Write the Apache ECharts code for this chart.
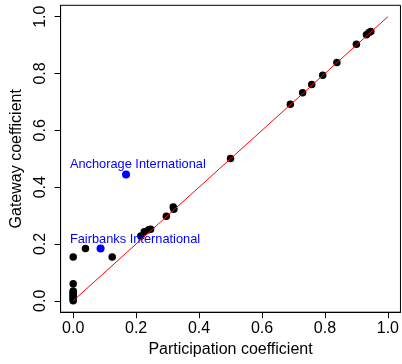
<!DOCTYPE html>
<html>
<head>
<meta charset="utf-8">
<script src="https://cdn.jsdelivr.net/npm/echarts@6/dist/echarts.min.js"></script>
<style>html,body{margin:0;padding:0;background:#fff}#c{width:402px;height:364px}</style>
</head>
<body>
<div id="c"></div>
<script>
// Tick values
var tickValues = [0, 0.2, 0.4, 0.6, 0.8, 1.0];

// Black airports: participation (x) and gateway (y)
var blackX = [0, 0.039, 0.124, 0, 0, 0, 0, 0, 0, 0, 0, 0,
  0.215, 0.226, 0.240, 0.246, 0.296, 0.318, 0.320,
  0.500, 0.690, 0.729, 0.758, 0.793, 0.838, 0.900, 0.932, 0.940, 0.946];
var blackY = [0.154, 0.184, 0.154, 0.060, 0.035, 0.030, 0.025, 0.020, 0.015, 0.010, 0.005, 0.000,
  0.228, 0.243, 0.250, 0.252, 0.298, 0.330, 0.322,
  0.501, 0.692, 0.732, 0.761, 0.794, 0.839, 0.903, 0.936, 0.944, 0.948];

// Highlighted airports
var blueNames = ["Anchorage International", "Fairbanks International"];
var blueX = [0.168, 0.087];
var blueY = [0.445, 0.184];

// Label anchor positions (data coords)
var labelX = [-0.0104, -0.0104];
var labelY = [0.481, 0.2166];

// Reference line y = x
var refX = [0, 1];
var refY = [0, 1];

function zip(a, b) { return a.map(function (v, i) { return [v, b[i]]; }); }

var font = 'Liberation Sans, Arial, sans-serif';
var chart = echarts.init(document.getElementById('c'), null, {renderer: 'canvas'});
var axisCommon = {
  type: 'value', min: -0.04, max: 1.04,
  splitLine: {show: false},
  axisLine: {show: true, onZero: false, lineStyle: {color: '#000', width: 1}},
  axisTick: {show: true, length: 6, customValues: tickValues, lineStyle: {color: '#000'}},
  nameLocation: 'middle',
  nameTextStyle: {fontFamily: font, fontSize: 16, color: '#000'}
};
chart.setOption({
  animation: false,
  grid: {left: 60.6, top: 5.3, width: 342.8, height: 306.9, show: true, borderColor: '#000', borderWidth: 1, backgroundColor: 'transparent'},
  xAxis: Object.assign({}, axisCommon, {
    name: 'Participation coefficient', nameGap: 29,
    axisLabel: {customValues: tickValues, margin: 8, fontFamily: font, fontSize: 16, color: '#000',
      formatter: function (v) { return v.toFixed(1); }}
  }),
  yAxis: Object.assign({}, axisCommon, {
    name: 'Gateway coefficient', nameGap: 36,
    axisLabel: {customValues: tickValues, margin: 12, rotate: 90, fontFamily: font, fontSize: 16, color: '#000',
      formatter: function (v) { return v.toFixed(1); }}
  }),
  series: [
    {type: 'scatter', data: zip(blackX, blackY), symbolSize: 7.5, itemStyle: {color: '#000', opacity: 1}, z: 2, silent: true},
    {type: 'scatter', data: zip(blueX, blueY), symbolSize: 8, itemStyle: {color: '#0000ff', opacity: 1}, z: 2, silent: true},
    {type: 'line', data: zip(refX, refY), showSymbol: false, symbol: 'none', lineStyle: {color: '#ff0000', width: 1}, z: 3, silent: true},
    {type: 'scatter', data: zip(labelX, labelY).map(function (p, i) { return {value: p, name: blueNames[i]}; }),
      symbolSize: 0, z: 4, silent: true, itemStyle: {opacity: 1},
      label: {show: true, position: 'right', distance: 0, align: 'left', verticalAlign: 'middle',
        formatter: function (p) { return p.name; },
        fontFamily: font, fontSize: 12.8, color: '#0000ff', opacity: 1}}
  ]
});
</script>
</body>
</html>
